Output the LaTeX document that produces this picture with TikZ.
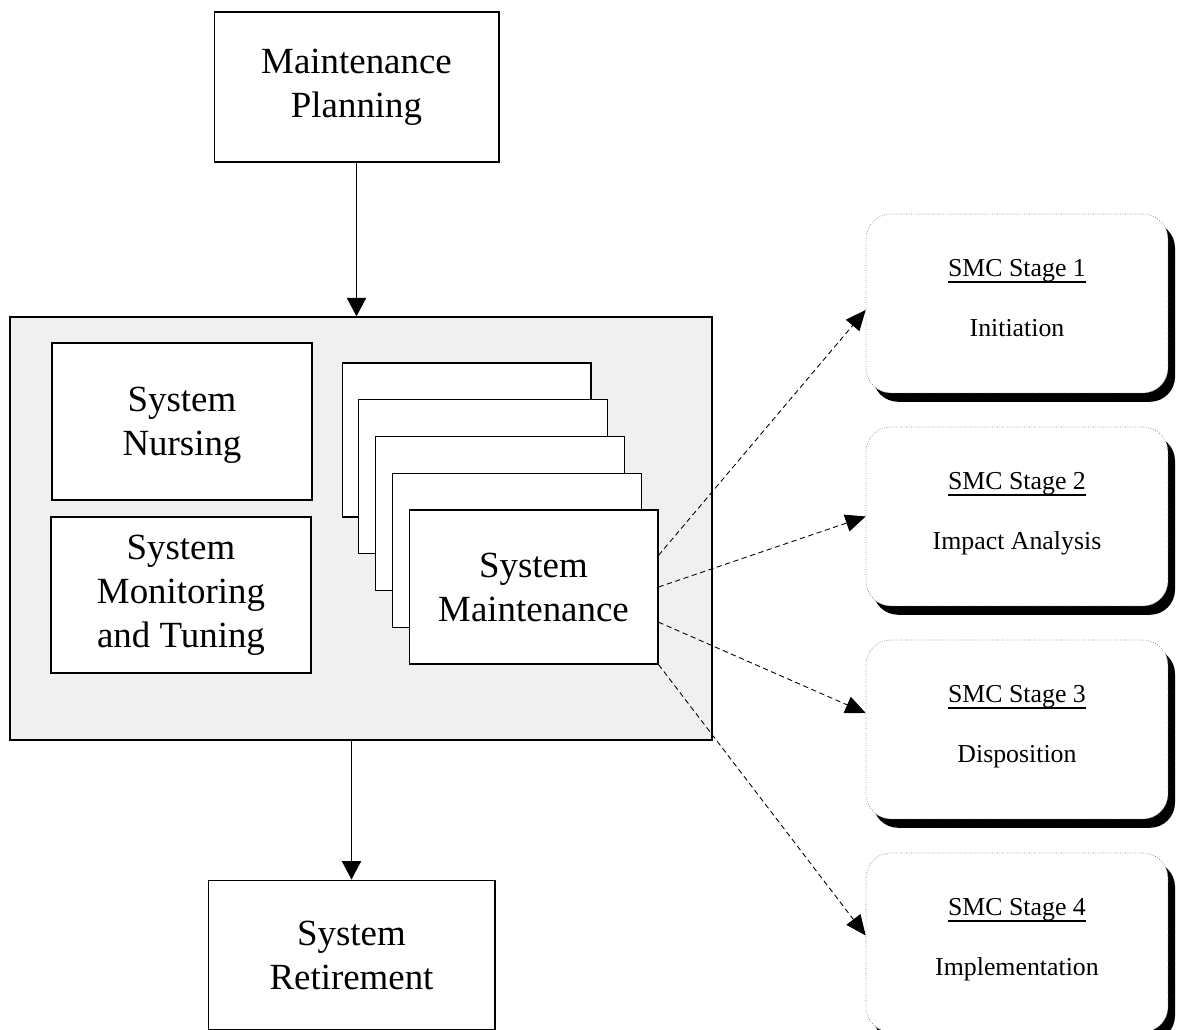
\documentclass[tikz,border=0pt]{standalone}
\usepackage{fontspec}
\setmainfont{Liberation Serif}
\usetikzlibrary{arrows.meta,shadows}
\definecolor{panelgray}{RGB}{240,240,240}
\newcommand{\stagehead}[1]{\setbox0\hbox{#1}\rlap{\rule[-3.2pt]{\wd0}{0.9pt}}\box0}

\begin{document}
\begin{tikzpicture}
		[x=0.02cm,y=-0.02cm,
		box/.style={rectangle,draw=black,fill=white,line width=0.6pt,inner sep=0pt,align=center,font=\fontsize{21}{25}\selectfont},
		stage/.style={rectangle,rounded corners=0.5cm,draw=gray,densely dotted,fill=white,inner sep=0pt,minimum width=6.04cm,minimum height=3.58cm,align=center,text depth=6pt,font=\fontsize{14.7}{17}\selectfont,drop shadow={shadow xshift=4pt,shadow yshift=-5pt,fill=black,opacity=1}},
		flow/.style={-{Triangle[length=10.5pt,width=11pt]},line width=0.6pt},
		link/.style={-{Triangle[length=11.5pt,width=10pt]},dash pattern=on 3pt off 2pt,line width=0.5pt},]
		\useasboundingbox (0,0) rectangle (1181,1029);
		
		\node[box,minimum width=5.7cm,minimum height=3cm] (plan) at (356.5,87) {Maintenance\\Planning};
		\node[box,fill=panelgray,line width=0.9pt,minimum width=14.04cm,minimum height=8.46cm] (phase) at (361,528.5) {};
		\node[box,minimum width=5.2cm,minimum height=3.14cm,text depth=0pt] (nursing) at (182,421.5) {System\\Nursing};
		\node[box,minimum width=5.2cm,minimum height=3.12cm] (monitor) at (181,595) {System\\Monitoring\\and Tuning};
		\foreach \i in {0,...,3}{
			\node[box,minimum width=4.98cm,minimum height=3.08cm] (sm\i) at ({466.5+16.75*\i},{440+36.75*\i}){};
		}
		\node[box,minimum width=4.98cm,minimum height=3.08cm] (sm4) at (533.5,587) {System\\Maintenance};
		\node[box,minimum width=5.74cm,minimum height=3cm] (retire) at (351.5,955) {System\\Retirement};
		
		\foreach \n/\y/\t in {1/303.5/Initiation,2/516.5/Impact Analysis,3/729.5/Disposition,4/942.5/Implementation}
			\node[stage] (s\n) at (1017,\y) {\stagehead{SMC Stage \n}\\[17pt]\t};
		
		\draw[flow] (plan.south) -- (plan.south |- phase.north);
		\draw[flow] (retire.north |- phase.south) -- (retire.north);
		
		\draw[link] ([yshift=18pt]sm4.east) -- ([yshift=-3.7pt]s1.west);
		\draw[link] (sm4.east) -- (s2.west);
		\draw[link] ([yshift=-20pt]sm4.east) -- ([yshift=9.4pt]s3.west);
		\draw[link] (sm4.south east) -- ([yshift=4pt]s4.west);
		
	\end{tikzpicture}
\end{document}
